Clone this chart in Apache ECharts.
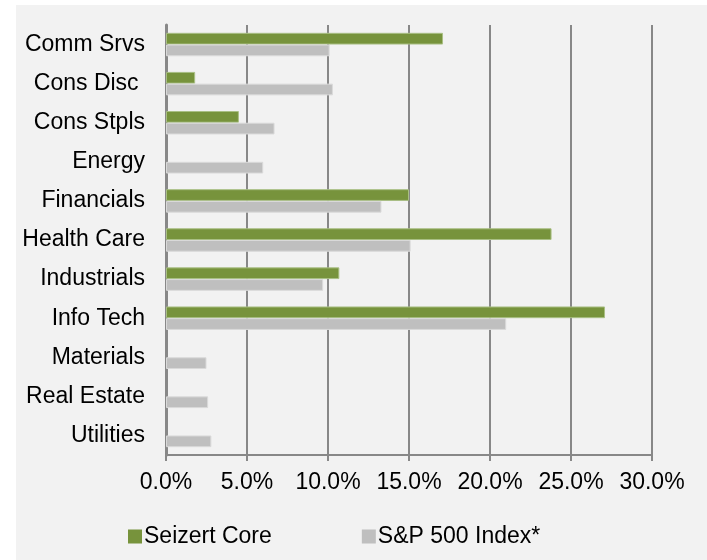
<!DOCTYPE html>
<html>
<head>
<meta charset="utf-8">
<script src="https://cdn.jsdelivr.net/npm/echarts@6/dist/echarts.min.js"></script>
<style>
html,body{margin:0;padding:0;background:#ffffff;}
#wrap{position:absolute;left:16px;top:5px;width:691px;height:555px;background:#f2f2f2;}
#chart{width:707px;height:560px;position:absolute;left:0;top:0;}
</style>
</head>
<body>
<div id="wrap"></div>
<div id="chart"></div>
<script>
const categories = ["Comm Srvs","Cons Disc ","Cons Stpls","Energy","Financials","Health Care","Industrials","Info Tech","Materials","Real Estate","Utilities"];
const seizertCore = [17.1, 1.8, 4.5, 0, 15.0, 23.8, 10.7, 27.1, 0, 0, 0];
const sp500 = [10.1, 10.3, 6.7, 6.0, 13.3, 15.1, 9.7, 21.0, 2.5, 2.6, 2.8];
const seriesNames = ["Seizert Core", "S&P 500 Index*"];
const xTicks = [0, 5, 10, 15, 20, 25, 30];

const hideZero = arr => arr.map(v => v === 0 ? null : v);

const chart = echarts.init(document.getElementById('chart'), null, {renderer:'canvas'});
const font = '"Liberation Sans", Arial, sans-serif';
chart.setOption({
  backgroundColor: 'transparent',
  animation: false,
  textStyle: {fontFamily: font},
  grid: {left: 166, right: 55, top: 25, bottom: 105, containLabel: false},
  legend: {
    data: seriesNames,
    left: 128, top: 525, padding: 0,
    icon: 'rect', itemWidth: 14, itemHeight: 14, itemGap: 90,
    itemStyle: {borderWidth: 0},
    textStyle: {fontSize: 23, color: '#000', fontFamily: font, padding: [0,0,0,-3]}
  },
  xAxis: {
    type: 'value', min: xTicks[0], max: xTicks[xTicks.length-1], interval: 5,
    axisLine: {show: true, lineStyle: {color: '#888', width: 2}},
    axisTick: {show: true, length: 6, lineStyle: {color: '#888', width: 2}},
    splitLine: {show: true, lineStyle: {color: '#888', width: 2}},
    axisLabel: {fontSize: 23, color: '#000', margin: 16, fontFamily: font,
      formatter: v => v.toFixed(1) + '%'}
  },
  yAxis: {
    type: 'category', data: categories, inverse: true,
    axisLine: {show: true, lineStyle: {color: '#888', width: 3}},
    axisTick: {show: false},
    axisLabel: {fontSize: 23, color: '#000', margin: 21, fontFamily: font}
  },
  series: [
    {name: seriesNames[0], type: 'bar', data: hideZero(seizertCore), barGap: '0%', barCategoryGap: '40%',
     itemStyle: {color: '#77933c', borderColor: '#a9bf84', borderWidth: 1}},
    {name: seriesNames[1], type: 'bar', data: hideZero(sp500), barGap: '0%', barCategoryGap: '40%',
     itemStyle: {color: '#bfbfbf', borderColor: '#d9d9d9', borderWidth: 1}}
  ]
});
</script>
</body>
</html>
